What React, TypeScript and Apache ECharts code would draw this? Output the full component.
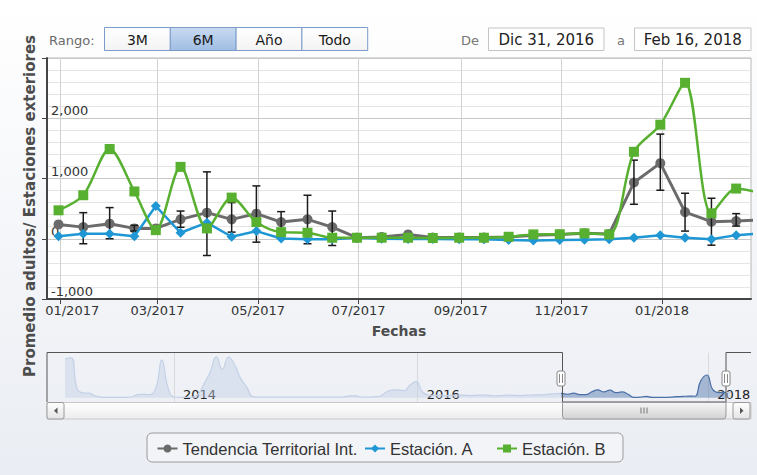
import React, { useEffect, useRef } from 'react';
import * as echarts from 'echarts';

// ---------- data ----------
const seriesNames = ['Tendencia Territorial Int.', 'Estación. A', 'Estación. B'];
const dates = [
  '2016-12-31', '2017-01-15', '2017-01-31', '2017-02-15', '2017-02-28', '2017-03-15', '2017-03-31',
  '2017-04-15', '2017-04-30', '2017-05-15', '2017-05-31', '2017-06-15', '2017-06-30', '2017-07-15',
  '2017-07-31', '2017-08-15', '2017-08-31', '2017-09-15', '2017-09-30', '2017-10-15', '2017-10-31',
  '2017-11-15', '2017-11-30', '2017-12-15', '2017-12-31', '2018-01-15', '2018-01-31', '2018-02-15',
  '2018-02-28',
];
const trend = [238, 193, 250, 172, 172, 322, 433, 322, 417, 277, 322, 193, 17, 30, 72, 20, 20, 20, 30, 60, 70, 90, 80, 933, 1255, 443, 283, 293, 310];
const stationA = [43, 83, 83, 43, 543, 100, 267, 33, 127, 5, -10, -10, 17, 0, -5, -5, -10, -10, -20, -30, -20, -15, -10, 17, 60, 17, -10, 60, 85];
const stationB = [472, 722, 1490, 785, 143, 1193, 172, 683, 277, 110, 100, 17, 17, 17, 17, 12, 17, 17, 33, 72, 75, 90, 72, 1443, 1893, 2588, 422, 833, 770];
const trendErrLow = [null, -83, 0, 127, null, 190, -278, 110, -57, 110, -83, -112, null, null, null, null, null, null, null, null, null, null, null, 572, 805, 127, -107, 210, null];
const trendErrHigh = [null, 433, 517, 222, null, 460, 1110, 600, 877, 450, 722, 460, null, null, null, null, null, null, null, null, null, null, null, 1305, 1737, 755, 672, 417, null];

const xTickDates = ['2017-01-01', '2017-03-01', '2017-05-01', '2017-07-01', '2017-09-01', '2017-11-01', '2018-01-01'];
const xMinDate = '2016-12-24';
const xMaxDate = '2018-02-24';
const yMin = -1000;
const yMax = 3000;
const yInterval = 1000;

// navigator (ordinal slots, ~semi-monthly); history before the visible window
const navHistory = [
  2150, 2200, 500, 270, 250, 100, 30, 20, 20, 20, 20, 40, 170, 190, 170, 520, 2080, 560, 40, 20, 20, 30,
  200, 790, 1440, 2260, 1580, 2250, 1840, 1070, 600, 60,
  30, 30, 30, 30, 30, 30, 30, 30, 30, 30, 40, 40, 30, 30,
  40, 100, 100, 40, 40, 50, 80, 300, 420, 430, 380, 700, 885, 330, 150,
  130, 150, 120, 140, 150, 130, 120, 140, 150, 130, 110, 120, 140, 130, 120, 130, 150, 160, 170, 200, 220,
];
const navYearSlots = [18, 58.25, 106.25];
const navYearLabels = ['2014', '2016', '2018'];
const navSelStart = 82;
const navSelEnd = 109.1;

const rangeLabel = 'Rango:';
const rangeButtons = ['3M', '6M', 'Año', 'Todo'];
const rangeSelected = 1;
const fromLabel = 'De';
const toLabel = 'a';
const fromDate = 'Dic 31, 2016';
const toDate = 'Feb 16, 2018';
const yTitle = 'Promedio adultos/ Estaciones exteriores';
const xTitle = 'Fechas';

// ---------- helpers ----------
const ts = (s: string) => {
  const [y, m, d] = s.split('-').map(Number);
  return Date.UTC(y, m - 1, d);
};
const FONT = 'DejaVu Sans';
const grad = (c1: string, c2: string) => ({
  type: 'linear', x: 0, y: 0, x2: 0, y2: 1,
  colorStops: [{ offset: 0, color: c1 }, { offset: 1, color: c2 }],
});

export default function App() {
  const ref = useRef<HTMLDivElement>(null);

  useEffect(() => {
    if (!ref.current) return;
    const chart = echarts.init(ref.current, undefined, { renderer: 'svg' });

    const gray = '#6b6b6b';
    const blue = '#1e97d4';
    const green = '#58b030';

    const trendData = dates.map((d, i) => [ts(d), trend[i]]);
    const aData = dates.map((d, i) => [ts(d), stationA[i]]);
    const bData = dates.map((d, i) => [ts(d), stationB[i]]);
    const errData = dates
      .map((d, i) => [ts(d), trendErrLow[i], trendErrHigh[i]])
      .filter((r) => r[1] !== null && r[2] !== null);

    const navValues = navHistory.concat(trend);
    const navData = navValues.map((v, i) => [i, v]);
    const xTicks = xTickDates.map(ts);

    const graphics: any[] = [];
    graphics.push({
      type: 'text', x: 30, y: 206, rotation: Math.PI / 2, silent: true,
      style: { text: yTitle, fontSize: 15, fontWeight: 'bold', fontFamily: FONT, fill: '#4d4d4d', align: 'center', verticalAlign: 'middle' },
    });
    graphics.push({
      type: 'text', x: 49, y: 40, silent: true,
      style: { text: rangeLabel, fontSize: 13, fontFamily: FONT, fill: '#6b6b6b', verticalAlign: 'middle' },
    });
    rangeButtons.forEach((b, i) => {
      graphics.push({
        type: 'rect', silent: true,
        shape: { x: 104.5 + i * 65.8, y: 27.5, width: 65.8, height: 23 },
        style: {
          fill: i === rangeSelected ? grad('#c9daf1', '#9fbde3') : grad('#ffffff', '#f3f3f3'),
          stroke: '#7b9cc8', lineWidth: 1,
        },
      });
      graphics.push({
        type: 'text', silent: true, x: 104.5 + i * 65.8 + 32.9, y: 39.5,
        style: { text: b, fontSize: 14, fontFamily: FONT, fill: '#1a1a1a', align: 'center', verticalAlign: 'middle' },
      });
    });
    graphics.push({ type: 'text', x: 461, y: 40, silent: true, style: { text: fromLabel, fontSize: 13, fontFamily: FONT, fill: '#777', verticalAlign: 'middle' } });
    graphics.push({ type: 'rect', silent: true, shape: { x: 488.5, y: 28, width: 115.5, height: 22.5 }, style: { fill: '#fff', stroke: '#c4c4c4', lineWidth: 1 } });
    graphics.push({ type: 'text', x: 546.3, y: 39.5, silent: true, style: { text: fromDate, fontSize: 15, fontFamily: FONT, fill: '#222', align: 'center', verticalAlign: 'middle' } });
    graphics.push({ type: 'text', x: 617, y: 40, silent: true, style: { text: toLabel, fontSize: 13, fontFamily: FONT, fill: '#777', verticalAlign: 'middle' } });
    graphics.push({ type: 'rect', silent: true, shape: { x: 634.5, y: 28, width: 116.5, height: 22.5 }, style: { fill: '#fff', stroke: '#c4c4c4', lineWidth: 1 } });
    graphics.push({ type: 'text', x: 692.7, y: 39.5, silent: true, style: { text: toDate, fontSize: 15, fontFamily: FONT, fill: '#222', align: 'center', verticalAlign: 'middle' } });

    graphics.push({
      type: 'polyline', silent: true, z: 20,
      shape: { points: [[47, 402], [47, 352.5], [562.5, 352.5], [562.5, 402], [726, 402], [726, 352.5], [751, 352.5]] },
      style: { stroke: '#555', lineWidth: 1, fill: 'none' },
    });
    [561, 726].forEach((hx) => {
      graphics.push({ type: 'rect', silent: true, z: 21, shape: { x: hx - 4, y: 371, width: 8, height: 15, r: 2 }, style: { fill: '#fff', stroke: '#888', lineWidth: 1 } });
      graphics.push({ type: 'line', silent: true, z: 22, shape: { x1: hx - 1.5, y1: 374, x2: hx - 1.5, y2: 383 }, style: { stroke: '#888', lineWidth: 1 } });
      graphics.push({ type: 'line', silent: true, z: 22, shape: { x1: hx + 1.5, y1: 374, x2: hx + 1.5, y2: 383 }, style: { stroke: '#888', lineWidth: 1 } });
    });
    graphics.push({ type: 'rect', silent: true, z: 20, shape: { x: 47, y: 402.5, width: 704, height: 16.5 }, style: { fill: grad('#ffffff', '#ececec'), stroke: '#c8c8c8', lineWidth: 1 } });
    graphics.push({ type: 'rect', silent: true, z: 21, shape: { x: 562.5, y: 402.5, width: 163.5, height: 16.5, r: [0, 0, 3, 3] }, style: { fill: grad('#f6f6f6', '#d2d2d2'), stroke: '#999', lineWidth: 1 } });
    [641, 644, 647].forEach((gx) => {
      graphics.push({ type: 'line', silent: true, z: 22, shape: { x1: gx, y1: 407.5, x2: gx, y2: 413.5 }, style: { stroke: '#777', lineWidth: 1 } });
    });
    graphics.push({ type: 'rect', silent: true, z: 21, shape: { x: 47, y: 402.5, width: 17, height: 16.5, r: 2 }, style: { fill: grad('#ffffff', '#e4e4e4'), stroke: '#999', lineWidth: 1 } });
    graphics.push({ type: 'polygon', silent: true, z: 22, shape: { points: [[57.5, 407.5], [57.5, 414], [54, 410.75]] }, style: { fill: '#555' } });
    graphics.push({ type: 'rect', silent: true, z: 21, shape: { x: 733, y: 402.5, width: 17, height: 16.5, r: 2 }, style: { fill: grad('#ffffff', '#e4e4e4'), stroke: '#999', lineWidth: 1 } });
    graphics.push({ type: 'polygon', silent: true, z: 22, shape: { points: [[740, 407.5], [740, 414], [743.5, 410.75]] }, style: { fill: '#555' } });
    graphics.push({ type: 'rect', silent: true, shape: { x: 147, y: 433, width: 476, height: 29, r: 5 }, style: { fill: 'rgba(255,255,255,0.35)', stroke: '#9a9a9a', lineWidth: 1 } });

    const legendBase = {
      orient: 'horizontal', top: 440, padding: 0, itemWidth: 20, itemHeight: 10,
      textStyle: { fontFamily: 'Liberation Sans', fontSize: 16.5, color: '#333' },
      selectedMode: false,
    };

    const fmtMonth = (v: number) => {
      const d = new Date(v);
      const s = String(d.getUTCMonth() + 1).padStart(2, '0') + '/' + d.getUTCFullYear();
      return v === xTicks[0] ? '{first|' + s + '}' : s;
    };

    const option: any = {
      animation: false,
      backgroundColor: grad('#ffffff', '#eaedf3'),
      textStyle: { fontFamily: FONT },
      graphic: graphics,
      legend: [
        { ...legendBase, left: 156.5, data: [seriesNames[0]] },
        { ...legendBase, left: 364, data: [seriesNames[1]] },
        { ...legendBase, left: 496, data: [seriesNames[2]] },
      ],
      grid: [
        { left: 47, top: 58, width: 704, height: 241, show: true, backgroundColor: '#ffffff', borderColor: '#b8b8b8', borderWidth: 1, containLabel: false },
        { left: 65, top: 352.5, width: 666, height: 49.2, show: false, containLabel: false },
      ],
      xAxis: [
        {
          type: 'value', gridIndex: 0, min: ts(xMinDate), max: ts(xMaxDate),
          name: xTitle, nameLocation: 'middle', nameGap: 25,
          nameTextStyle: { fontFamily: FONT, fontSize: 14, fontWeight: 'bold', color: '#4d4d4d' },
          axisLine: { show: true, onZero: false, lineStyle: { color: '#444', width: 2 } },
          axisTick: { show: true, length: 5, lineStyle: { color: '#444' }, customValues: xTicks },
          axisLabel: {
            customValues: xTicks, margin: 5, fontSize: 13, fontFamily: FONT, color: '#333',
            formatter: fmtMonth,
            rich: { first: { fontSize: 13, fontFamily: FONT, color: '#333', padding: [0, 0, 0, 24] } },
          },
          splitLine: { show: true, lineStyle: { color: '#d2d2d2', width: 1 } },
        },
        {
          type: 'value', gridIndex: 1, min: 0, max: navValues.length - 1,
          axisLine: { show: false, onZero: false },
          axisTick: { show: true, inside: true, length: 49, customValues: navYearSlots, lineStyle: { color: '#d9d9d9' } },
          axisLabel: {
            show: true, inside: true, customValues: navYearSlots, margin: 1, align: 'left', padding: [0, 0, 0, 9],
            fontSize: 13, fontFamily: FONT, color: '#222',
            formatter: (v: number) => {
              let best = 0;
              navYearSlots.forEach((s, i) => { if (Math.abs(s - v) < Math.abs(navYearSlots[best] - v)) best = i; });
              return navYearLabels[best];
            },
          },
          splitLine: { show: false },
        },
      ],
      yAxis: [
        {
          type: 'value', gridIndex: 0, min: yMin, max: yMax, interval: yInterval,
          axisLine: { show: true, onZero: false, lineStyle: { color: '#444', width: 2 } },
          axisTick: { show: true, length: 5, lineStyle: { color: '#444' } },
          axisLabel: {
            inside: true, margin: 4, verticalAlign: 'bottom', lineHeight: 15, fontSize: 13, fontFamily: FONT, color: '#333',
            formatter: (v: number) => (v === yMax ? '' : v.toLocaleString('en-US')),
          },
          splitLine: { show: true, lineStyle: { color: '#c8c8c8' } },
          minorTick: { show: false, splitNumber: 5 },
          minorSplitLine: { show: true, lineStyle: { color: '#e4e4e4' } },
        },
        { type: 'value', gridIndex: 1, min: -220, max: 2500, show: false, splitLine: { show: false } },
      ],
      visualMap: {
        type: 'piecewise', show: false, seriesIndex: 4, dimension: 0,
        pieces: [
          { lt: navSelStart, color: '#c3d0e6' },
          { gte: navSelStart, lte: navSelEnd, color: '#4a70a8' },
          { gt: navSelEnd, color: '#c3d0e6' },
        ],
      },
      series: [
        {
          name: seriesNames[0], type: 'line', xAxisIndex: 0, yAxisIndex: 0, data: trendData,
          symbol: 'circle', symbolSize: 10, showAllSymbol: true,
          lineStyle: { color: gray, width: 3 }, itemStyle: { color: gray }, z: 2,
        },
        {
          name: 'error', type: 'custom', xAxisIndex: 0, yAxisIndex: 0, data: errData, z: 3, silent: true, clip: true,
          encode: { x: 0, y: [1, 2] },
          renderItem: (params: any, api: any) => {
            const x = api.value(0);
            const lo = api.value(1);
            const hi = api.value(2);
            const p1 = api.coord([x, hi]);
            const p2 = api.coord([x, lo]);
            const w = 4;
            const style = { stroke: '#1a1a1a', lineWidth: 1.5 };
            return {
              type: 'group',
              children: [
                { type: 'line', shape: { x1: p1[0], y1: p1[1], x2: p2[0], y2: p2[1] }, style },
                { type: 'line', shape: { x1: p1[0] - w, y1: p1[1], x2: p1[0] + w, y2: p1[1] }, style },
                { type: 'line', shape: { x1: p2[0] - w, y1: p2[1], x2: p2[0] + w, y2: p2[1] }, style },
              ],
            };
          },
        },
        {
          name: seriesNames[1], type: 'line', xAxisIndex: 0, yAxisIndex: 0, data: aData,
          symbol: 'diamond', symbolSize: 10, showAllSymbol: true,
          lineStyle: { color: blue, width: 2.5 }, itemStyle: { color: blue }, z: 4,
        },
        {
          name: seriesNames[2], type: 'line', xAxisIndex: 0, yAxisIndex: 0, data: bData,
          symbol: 'rect', symbolSize: 10, showAllSymbol: true, smooth: 0.3,
          lineStyle: { color: green, width: 2.5 }, itemStyle: { color: green }, z: 5,
        },
        {
          name: 'navigator', type: 'line', xAxisIndex: 1, yAxisIndex: 1, data: navData,
          symbol: 'none', smooth: 0.5, silent: true,
          lineStyle: { width: 1.2 }, areaStyle: { opacity: 0.45 }, z: 1,
        },
      ],
    };

    chart.setOption(option);
    return () => chart.dispose();
  }, []);

  return <div ref={ref} style={{ position: 'absolute', left: 0, top: 0, width: 757, height: 475 }} />;
}
